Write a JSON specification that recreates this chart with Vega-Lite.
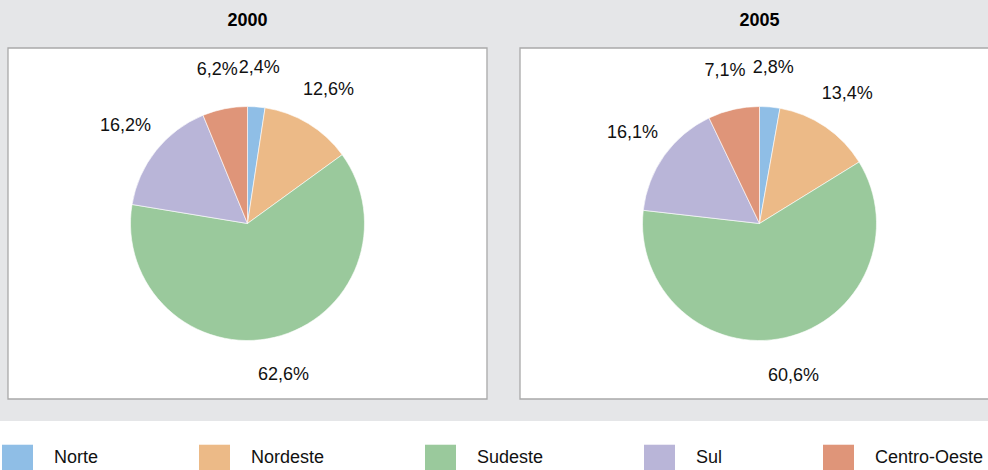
{
  "$schema": "https://vega.github.io/schema/vega-lite/v6.json",
  "width": 988,
  "height": 421,
  "autosize": {"type": "none"},
  "padding": {"left": 0, "top": 0, "right": 0, "bottom": 49},
  "background": "white",
  "config": {
    "view": {"fill": "#e5e6e8", "stroke": "transparent", "strokeWidth": 0},
    "font": "Liberation Sans"
  },
  "datasets": {
    "shares": [
      {"year": "2000", "region": "Norte", "value": 2.4, "ord": 1, "label": "2,4%"},
      {"year": "2000", "region": "Nordeste", "value": 12.6, "ord": 2, "label": "12,6%"},
      {"year": "2000", "region": "Sudeste", "value": 62.6, "ord": 3, "label": "62,6%"},
      {"year": "2000", "region": "Sul", "value": 16.2, "ord": 4, "label": "16,2%"},
      {"year": "2000", "region": "Centro-Oeste", "value": 6.2, "ord": 5, "label": "6,2%"},
      {"year": "2005", "region": "Norte", "value": 2.8, "ord": 1, "label": "2,8%"},
      {"year": "2005", "region": "Nordeste", "value": 13.4, "ord": 2, "label": "13,4%"},
      {"year": "2005", "region": "Sudeste", "value": 60.6, "ord": 3, "label": "60,6%"},
      {"year": "2005", "region": "Sul", "value": 16.1, "ord": 4, "label": "16,1%"},
      {"year": "2005", "region": "Centro-Oeste", "value": 7.1, "ord": 5, "label": "7,1%"}
    ],
    "years": [{"year": "2000"}, {"year": "2005"}]
  },
  "data": {"name": "shares"},
  "layer": [
    {
      "data": {"name": "years"},
      "mark": {"type": "rect", "fill": "white", "stroke": "#a9a9a9", "strokeWidth": 1.3, "clip": true},
      "encoding": {
        "x": {"field": "year", "type": "nominal", "axis": null,
              "scale": {"type": "band", "range": [8, 999], "paddingInner": 0.0645, "paddingOuter": 0}},
        "y": {"datum": "p", "type": "nominal", "axis": null,
              "scale": {"type": "band", "range": [48, 399], "paddingInner": 0, "paddingOuter": 0}}
      }
    },
    {
      "data": {"name": "years"},
      "mark": {"type": "text", "fontWeight": "bold", "fontSize": 18, "color": "#000000", "baseline": "middle", "dy": -27},
      "encoding": {
        "x": {"field": "year", "type": "nominal", "axis": null},
        "y": {"datum": "p", "type": "nominal", "axis": null, "bandPosition": 0},
        "text": {"field": "year"}
      }
    },
    {
      "transform": [{"filter": "datum.year == '2000'"}],
      "encoding": {
        "x": {"field": "year", "type": "nominal", "axis": null},
        "y": {"datum": "p", "type": "nominal", "axis": null},
        "theta": {"field": "value", "type": "quantitative", "stack": true, "scale": {"domain": [0, 100]}},
        "order": {"field": "ord", "type": "quantitative"}
      },
      "layer": [
        {
          "mark": {"type": "arc", "outerRadius": 117, "stroke": "white", "strokeWidth": 0.6},
          "encoding": {
            "color": {
              "field": "region", "type": "nominal",
              "scale": {"domain": ["Norte", "Nordeste", "Sudeste", "Sul", "Centro-Oeste"],
                        "range": ["#8fbee6", "#ecba87", "#9ac99c", "#b9b5d8", "#df9579"]},
              "legend": {"title": null, "orient": "none", "legendX": 2, "legendY": 442,
                         "direction": "horizontal", "columns": 5,
                         "symbolType": "M-1,-0.84H1V0.84H-1Z", "symbolSize": 961,
                         "symbolStrokeWidth": 0, "symbolOpacity": 1,
                         "labelFontSize": 18, "labelColor": "#111111", "labelFont": "Liberation Sans",
                         "labelOffset": 21, "columnPadding": 100, "padding": 0, "labelLimit": 0}
            }
          }
        },
        {
          "mark": {"type": "text", "radius": 156, "fontSize": 18, "color": "#111111"},
          "encoding": {
            "text": {"field": "label"},
            "detail": {"field": "region", "type": "nominal"}
          }
        }
      ]
    },
    {
      "transform": [{"filter": "datum.year == '2005'"}],
      "encoding": {
        "x": {"field": "year", "type": "nominal", "axis": null},
        "y": {"datum": "p", "type": "nominal", "axis": null},
        "theta": {"field": "value", "type": "quantitative", "stack": true, "scale": {"domain": [0, 100]}},
        "order": {"field": "ord", "type": "quantitative"}
      },
      "layer": [
        {
          "mark": {"type": "arc", "outerRadius": 117, "stroke": "white", "strokeWidth": 0.6},
          "encoding": {
            "color": {
              "field": "region", "type": "nominal",
              "scale": {"domain": ["Norte", "Nordeste", "Sudeste", "Sul", "Centro-Oeste"],
                        "range": ["#8fbee6", "#ecba87", "#9ac99c", "#b9b5d8", "#df9579"]},
              "legend": {"title": null, "orient": "none", "legendX": 2, "legendY": 442,
                         "direction": "horizontal", "columns": 5,
                         "symbolType": "M-1,-0.84H1V0.84H-1Z", "symbolSize": 961,
                         "symbolStrokeWidth": 0, "symbolOpacity": 1,
                         "labelFontSize": 18, "labelColor": "#111111", "labelFont": "Liberation Sans",
                         "labelOffset": 21, "columnPadding": 100, "padding": 0, "labelLimit": 0}
            }
          }
        },
        {
          "mark": {"type": "text", "radius": 156, "fontSize": 18, "color": "#111111"},
          "encoding": {
            "text": {"field": "label"},
            "detail": {"field": "region", "type": "nominal"}
          }
        }
      ]
    }
  ]
}
